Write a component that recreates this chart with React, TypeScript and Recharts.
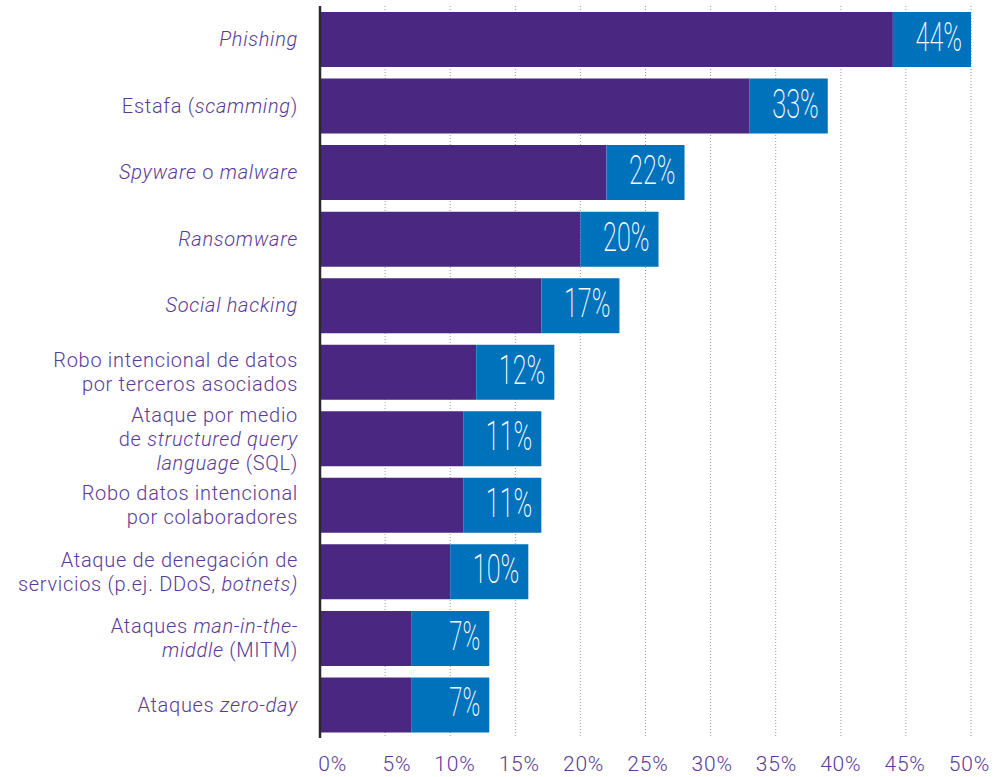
import { BarChart, Bar, XAxis, YAxis, CartesianGrid, LabelList } from "recharts";

const categories = [
  "phishing",
  "scamming",
  "spyware",
  "ransomware",
  "social",
  "terceros",
  "sql",
  "colaboradores",
  "ddos",
  "mitm",
  "zeroday",
];

// each label line is a list of [text, italic] runs
const labelLines: [string, boolean][][][] = [
  [[["Phishing", true]]],
  [[["Estafa (", false], ["scamming", true], [")", false]]],
  [[["Spyware", true], [" o ", false], ["malware", true]]],
  [[["Ransomware", true]]],
  [[["Social hacking", true]]],
  [[["Robo intencional de datos", false]], [["por terceros asociados", false]]],
  [
    [["Ataque por medio", false]],
    [["de ", false], ["structured query", true]],
    [["language", true], [" (SQL)", false]],
  ],
  [[["Robo datos intencional", false]], [["por colaboradores", false]]],
  [[["Ataque de denegación de", false]], [["servicios (p.ej. DDoS, ", false], ["botnets)", true]]],
  [[["Ataques ", false], ["man-in-the-", true]], [["middle", true], [" (MITM)", false]]],
  [[["Ataques ", false], ["zero-day", true]]],
];

const values = [44, 33, 22, 20, 17, 12, 11, 11, 10, 7, 7];

const xTicks = [0, 5, 10, 15, 20, 25, 30, 35, 40, 45, 50];

// width (in %) of the blue box holding the value label
const LABEL_BOX = 6;

const PURPLE = "#4a2881";
const BLUE = "#0071bb";
const TEXT = "#5a3a98";

const data = categories.map((name, i) => ({
  name,
  value: values[i],
  box: LABEL_BOX,
}));

const CategoryTick = (props: any) => {
  const { x, y, index } = props;
  const lines = labelLines[index] || [];
  const lh = 24;
  const start = y - ((lines.length - 1) * lh) / 2;
  return (
    <text
      x={x - 14}
      y={start}
      textAnchor="end"
      fill={TEXT}
      fontFamily="Roboto, sans-serif"
      fontWeight={300}
      fontSize={20}
      letterSpacing={0.7}
      dominantBaseline="central"
    >
      {lines.map((runs, li) => (
        <tspan key={li} x={x - 14} y={start + li * lh}>
          {runs.map(([t, it], ri) => (
            <tspan key={ri} fontStyle={it ? "italic" : "normal"}>
              {t}
            </tspan>
          ))}
        </tspan>
      ))}
    </text>
  );
};

const ValueTick = (props: any) => {
  const { x, y, payload } = props;
  const v = payload.value;
  return (
    <text
      x={x + 27 - v * 0.16}
      y={y + 18}
      textAnchor="end"
      fill={TEXT}
      fontFamily="Roboto, sans-serif"
      fontWeight={300}
      fontSize={21}
      letterSpacing={0.8}
      dominantBaseline="central"
    >
      {v}%
    </text>
  );
};

const BoxLabel = (props: any) => {
  const { x, y, width, height, index } = props;
  const txt = `${values[index]}%`;
  return (
    <text
      x={x + width - 9}
      y={y + height / 2 + 11.5}
      textAnchor="end"
      fill="#ffffff"
      fontFamily="Roboto, sans-serif"
      fontWeight={200}
      fontSize={41}
      textLength={txt.length * 15.5}
      lengthAdjust="spacingAndGlyphs"
    >
      {txt}
    </text>
  );
};

export default function App() {
  return (
    <div style={{ position: "absolute", left: 0, top: 0, background: "#fff" }}>
      <BarChart
        width={995}
        height={777}
        data={data}
        layout="vertical"
        margin={{ top: 6, right: 24, left: 0, bottom: 9 }}
        barCategoryGap={11.5}
      >
        <CartesianGrid
          horizontal={false}
          stroke="#9a9a9a"
          strokeDasharray="1 2"
        />
        <XAxis
          type="number"
          domain={[0, 50]}
          ticks={xTicks}
          axisLine={false}
          tickLine={false}
          height={30}
          tick={<ValueTick />}
          interval={0}
        />
        <YAxis
          type="category"
          dataKey="name"
          width={320}
          axisLine={{ stroke: "#2a2a2a", strokeWidth: 2.5 }}
          tickLine={false}
          tick={<CategoryTick />}
          interval={0}
        />
        <Bar dataKey="value" stackId="a" fill={PURPLE} barSize={55} isAnimationActive={false} />
        <Bar dataKey="box" stackId="a" fill={BLUE} barSize={55} isAnimationActive={false}>
          <LabelList dataKey="box" content={<BoxLabel />} />
        </Bar>
      </BarChart>
    </div>
  );
}
